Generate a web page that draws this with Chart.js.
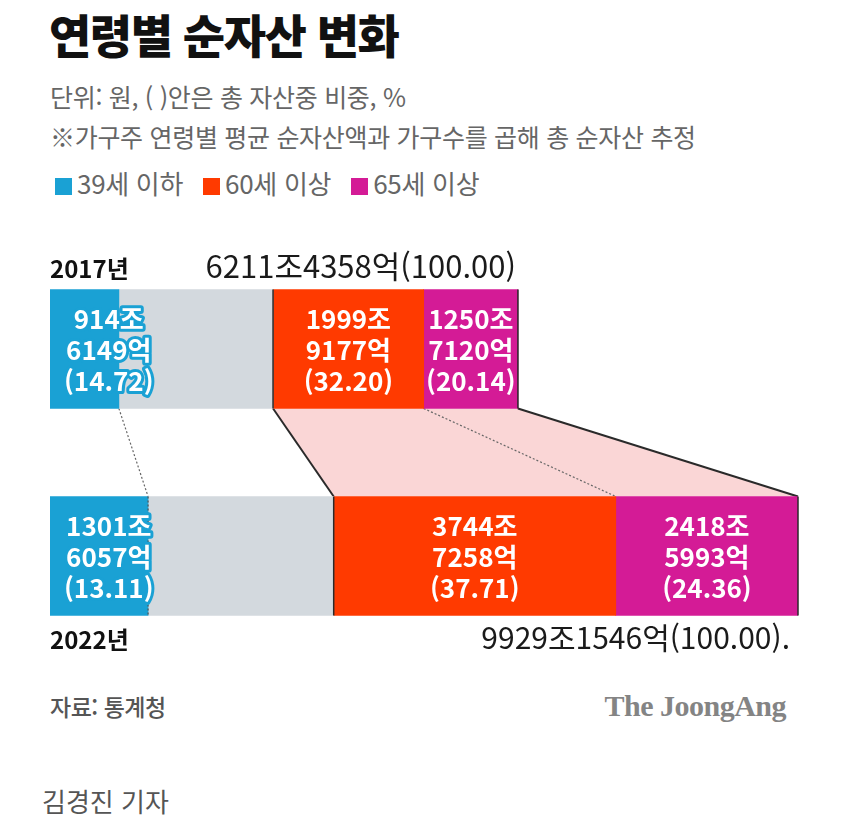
<!DOCTYPE html>
<html lang="ko">
<head>
<meta charset="utf-8">
<script src="https://cdn.jsdelivr.net/npm/chart.js@4.4.1/dist/chart.umd.min.js"></script>
<style>
  body { margin: 0; width: 850px; height: 836px; background: #fff; position: relative; overflow: hidden;
         font-family: "Noto Sans CJK KR", "Noto Sans", sans-serif; }
  .t { position: absolute; white-space: nowrap; line-height: 1; }
  #title { left: 49px; top: 10px; font-size: 46px; font-weight: 900; letter-spacing: -1.5px; color: #111; }
  #unit { left: 50px; top: 84px; font-size: 25px; color: #666; letter-spacing: -0.3px; }
  #note { left: 50px; top: 124px; font-size: 25px; color: #666; letter-spacing: -0.3px; }
  #legend { left: 55px; top: 170px; font-size: 26px; color: #666; letter-spacing: -0.3px; }
  #legend span.item { margin-right: 20px; }
  #legend i { display: inline-block; width: 17px; height: 17px; margin-right: 5px; vertical-align: -1px; }
  #source { left: 50px; top: 695px; font-size: 23px; font-weight: 500; color: #555; letter-spacing: -0.5px; }
  #brand { right: 64px; top: 691px; font-family: "Liberation Serif", serif; font-weight: bold; font-size: 30px;
           color: #848484; letter-spacing: -0.5px; }
  #byline { left: 42px; top: 788px; font-size: 26px; color: #555; }
  #chart { position: absolute; left: 0; top: 240px; }
</style>
</head>
<body>
<div class="t" id="title">연령별 순자산 변화</div>
<div class="t" id="unit">단위: 원, ( )안은 총 자산중 비중, %</div>
<div class="t" id="note">※가구주 연령별 평균 순자산액과 가구수를 곱해 총 순자산 추정</div>
<div class="t" id="legend"></div>
<canvas id="chart" width="850" height="420"></canvas>
<div class="t" id="source">자료: 통계청</div>
<div class="t" id="brand">The JoongAng</div>
<div class="t" id="byline">김경진 기자</div>
<script>
// values in 억 원
const years = ['2017년', '2022년'];
const totals = [62114358, 99291546];
const under39 = [9146149, 13016057];
const middle = [20461912, 24642238]; // unlabelled grey part (rest of total)
const over60 = [19999177, 37447258];
const over65 = [12507120, 24185993];
const shareUnder39 = ['14.72', '13.11'];
const shareOver60 = ['32.20', '37.71'];
const shareOver65 = ['20.14', '24.36'];
const shareTotal = ['100.00', '100.00'];
const totalSuffix = ['', '.'];

const CYAN = '#1aa1d4', GREY = '#d3d9de', ORANGE = '#ff3a00', MAGENTA = '#d41b96', PINK = '#fad6d6';
const FONT = '"Noto Sans CJK KR", sans-serif';

const jo = v => v / 10000;
const fmt = v => [Math.floor(v / 10000) + '조', (v % 10000) + '억'];

const series = [
  { label: '39세 이하', values: under39, shares: shareUnder39, color: CYAN, legend: true },
  { label: '40~59세', values: middle, shares: null, color: GREY, legend: false },
  { label: '60세 이상', values: over60, shares: shareOver60, color: ORANGE, legend: true },
  { label: '65세 이상', values: over65, shares: shareOver65, color: MAGENTA, legend: true }
];

document.getElementById('legend').innerHTML = series.filter(s => s.legend)
  .map(s => `<span class="item"><i style="background:${s.color}"></i>${s.label}</span>`).join('');

const edge = el => {
  const p = el.getProps(['x', 'y', 'base', 'height'], true);
  return { start: Math.min(p.x, p.base), end: Math.max(p.x, p.base), top: p.y - p.height / 2, bottom: p.y + p.height / 2, y: p.y };
};

const line = (ctx, x1, y1, x2, y2, color, width, dash) => {
  ctx.save();
  ctx.strokeStyle = color;
  ctx.lineWidth = width;
  ctx.setLineDash(dash || []);
  ctx.beginPath();
  ctx.moveTo(x1, y1);
  ctx.lineTo(x2, y2);
  ctx.stroke();
  ctx.restore();
};

const connectors = {
  id: 'connectors',
  beforeDatasetsDraw(chart) {
    const ctx = chart.ctx;
    const bars = i => chart.getDatasetMeta(i).data.map(edge);
    const c = bars(0), o = bars(2), m = bars(3);
    const y1 = o[0].bottom, y2 = o[1].top;
    ctx.save();
    ctx.fillStyle = PINK;
    ctx.beginPath();
    ctx.moveTo(o[0].start, y1);
    ctx.lineTo(m[0].end, y1);
    ctx.lineTo(m[1].end, y2);
    ctx.lineTo(o[1].start, y2);
    ctx.closePath();
    ctx.fill();
    ctx.restore();
    line(ctx, o[0].start, y1, o[1].start, y2, '#2a2a2a', 2);
    line(ctx, m[0].end, y1, m[1].end, y2, '#2a2a2a', 2);
    line(ctx, c[0].end, y1, c[1].end, y2, '#666', 1.2, [2, 2]);
    line(ctx, o[0].end, y1, o[1].end, y2, '#666', 1.2, [2, 2]);
  },
  afterDatasetsDraw(chart) {
    const ctx = chart.ctx;
    const bars = i => chart.getDatasetMeta(i).data.map(edge);
    const c = bars(0), o = bars(2), m = bars(3);
    [0, 1].forEach(k => {
      line(ctx, o[k].start, o[k].top, o[k].start, o[k].bottom, '#2a2a2a', 1.5);
      line(ctx, m[k].end, m[k].top, m[k].end, m[k].bottom, '#2a2a2a', 1.5);
    });
    line(ctx, c[1].end, c[1].top, c[1].end, c[1].bottom, '#555', 1.2, [2, 2]);

    // values inside the bars
    ctx.save();
    ctx.font = `bold 26px ${FONT}`;
    ctx.textAlign = 'center';
    ctx.textBaseline = 'middle';
    ctx.lineJoin = 'round';
    series.forEach((s, i) => {
      if (!s.shares) return;
      bars(i).forEach((b, k) => {
        const lines = fmt(s.values[k]).concat('(' + s.shares[k] + ')');
        const w = Math.max(...lines.map(t => ctx.measureText(t).width));
        let x = (b.start + b.end) / 2;
        if (i === 0) x = b.start + w / 2 + 14;
        lines.forEach((t, j) => {
          const y = b.y + (j - 1) * 31 + 1;
          if (i === 0) {
            ctx.strokeStyle = CYAN;
            ctx.lineWidth = 6;
            ctx.strokeText(t, x, y);
          }
          ctx.fillStyle = '#fff';
          ctx.fillText(t, x, y);
        });
      });
    });

    // year and total labels
    const g = bars(3);
    const left = chart.chartArea.left;
    ctx.textBaseline = 'middle';
    years.forEach((yr, k) => {
      const ly = k === 0 ? g[k].top - 21 : g[k].bottom + 24;
      ctx.font = `bold 24px ${FONT}`;
      ctx.textAlign = 'left';
      ctx.fillStyle = '#111';
      ctx.fillText(yr, left, ly);
      const [a, b] = fmt(totals[k]);
      ctx.font = `${k === 0 ? 31 : 30}px ${FONT}`;
      ctx.textAlign = 'right';
      ctx.fillStyle = '#1a1a1a';
      ctx.fillText(a + b + '(' + shareTotal[k] + ')' + totalSuffix[k], g[k].end - (k === 0 ? 2 : 8), ly - 2);
    });
    ctx.restore();
  }
};

new Chart(document.getElementById('chart'), {
  type: 'bar',
  data: {
    labels: years,
    datasets: series.map(s => ({
      label: s.label,
      data: s.values.map(jo),
      backgroundColor: s.color,
      borderWidth: 0,
      barThickness: 119
    }))
  },
  options: {
    indexAxis: 'y',
    responsive: false,
    animation: false,
    layout: { padding: { left: 50, right: 52, top: 5.5, bottom: 0.5 } },
    scales: {
      x: { stacked: true, display: false, min: 0, max: jo(totals[1]) },
      y: { stacked: true, display: false }
    },
    plugins: { legend: { display: false }, tooltip: { enabled: false } }
  },
  plugins: [connectors]
});
</script>
</body>
</html>
